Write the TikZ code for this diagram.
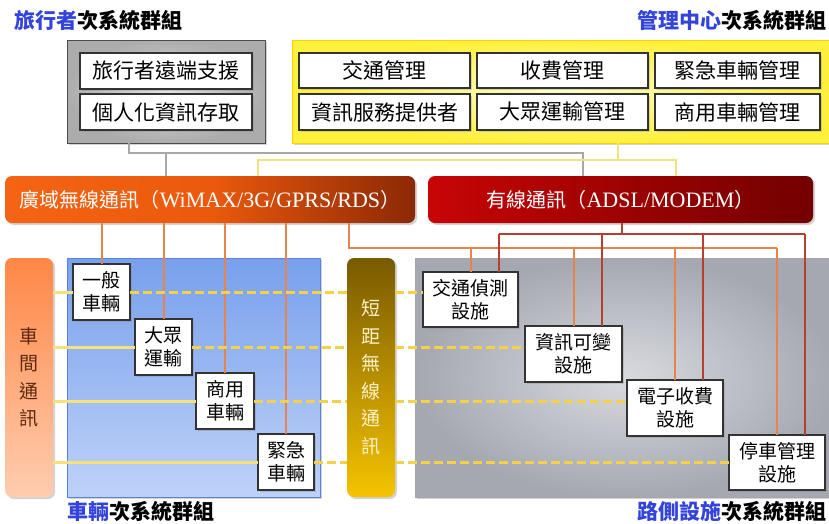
\documentclass[tikz,border=0pt]{standalone}
\usepackage{fontspec}
\setmainfont{Noto Sans CJK TC}
\newfontfamily\lserif{Liberation Serif}
\usetikzlibrary{shadows,calc}
\definecolor{tblue}{HTML}{3344DD}
\definecolor{oline}{HTML}{E8834E}
\definecolor{rline}{HTML}{B5402F}
\definecolor{gline}{HTML}{A8A8A8}
\definecolor{yline}{HTML}{F2E27A}
\definecolor{ydash}{HTML}{F3D24A}
\definecolor{ysol}{HTML}{F5E27A}
\tikzset{
  shd/.style={drop shadow={opacity=0.35,shadow xshift=2pt,shadow yshift=-2pt}},
  panel/.style={inner sep=0pt,outer sep=0pt,shd},
  wbox/.style={draw=black!80,line width=1.3pt,fill=white,inner sep=0pt,outer sep=0pt,align=center,
     drop shadow={opacity=0.3,shadow xshift=1.5pt,shadow yshift=-1.5pt}},
  bigtxt/.style={font=\fontsize{21}{25}\selectfont},
  smalltxt/.style={font=\fontsize{19}{23}\selectfont},
  vtxt/.style={font=\fontsize{19}{27.5}\selectfont,align=center},
  ttl/.style={font=\fontsize{21}{25}\selectfont\bfseries,inner sep=0pt},
  gconn/.style={draw=gline,line width=2pt},
  yconn/.style={draw=yline,line width=2pt},
  oconn/.style={draw=oline,line width=2pt},
  rconn/.style={draw=rline,line width=2pt},
  ysolid/.style={draw=ysol,line width=3pt},
  ydashed/.style={draw=ydash,line width=3pt,dash pattern=on 9pt off 4pt},
  ydshadow/.style={draw=gray,opacity=0.35,line width=2pt,dash pattern=on 9pt off 4pt,yshift=-1.5pt},
}
\begin{document}
\begin{tikzpicture}[x=1pt,y=-1pt]
\useasboundingbox (0,0) rectangle (829,523);
% titles
\node[ttl,anchor=west] (t1) at (14,20) {\textcolor{tblue}{旅行者}次系統群組};
\node[ttl,anchor=east] (t2) at (827,20) {\textcolor{tblue}{管理中心}次系統群組};
\node[ttl,anchor=west] (t3) at (67,511) {\textcolor{tblue}{車輛}次系統群組};
\node[ttl,anchor=east] (t4) at (827,511) {\textcolor{tblue}{路側設施}次系統群組};
% big panels
\node[panel,draw=black!70,line width=1pt,inner color=gray!22,outer color=gray!65,
      minimum width=198pt,minimum height=103pt] (trav) at (166,91.5) {};
\node[panel,draw=yellow!70!orange,line width=0.8pt,inner color={rgb,255:red,255;green,253;blue,205},outer color={rgb,255:red,255;green,240;blue,60},
      minimum width=540pt,minimum height=103pt] (mgmt) at (562,91.5) {};
\node[panel,rounded corners=7pt,left color={rgb,255:red,245;green,100;blue,20},right color={rgb,255:red,140;green,40;blue,5},
      middle color={rgb,255:red,235;green,90;blue,12},
      minimum width=410pt,minimum height=47pt,text=white,font=\fontsize{20}{24}\selectfont] (wide) at (210,199.5)
      {廣域無線通訊（{\lserif\fontsize{22}{24}\selectfont WiMAX/3G/GPRS/RDS}）};
\node[panel,rounded corners=7pt,left color={rgb,255:red,200;green,5;blue,5},right color={rgb,255:red,115;green,0;blue,0},
      minimum width=385pt,minimum height=47pt,text=white,font=\fontsize{20}{24}\selectfont] (wire) at (620.5,199.5)
      {有線通訊（{\lserif\fontsize{22}{24}\selectfont ADSL/MODEM}）};
\node[panel,rounded corners=7pt,top color={rgb,255:red,255;green,135;blue,70},bottom color={rgb,255:red,255;green,205;blue,175},
      minimum width=48pt,minimum height=239pt,text={rgb,255:red,95;green,40;blue,15},vtxt] (v2v) at (29,377.5)
      {車\\間\\通\\訊};
\node[panel,draw={rgb,255:red,90;green,130;blue,220},line width=0.8pt,top color={rgb,255:red,120;green,160;blue,236},bottom color={rgb,255:red,190;green,210;blue,248},
      minimum width=253pt,minimum height=239pt] (veh) at (193.5,377.5) {};
\node[panel,draw=gray!70,line width=0.8pt,inner color={rgb,255:red,216;green,218;blue,223},outer color={rgb,255:red,165;green,168;blue,177},
      minimum width=420pt,minimum height=239pt] (road) at (625,377.5) {};
\node[panel,rounded corners=7pt,top color={rgb,255:red,120;green,90;blue,0},bottom color={rgb,255:red,245;green,195;blue,0},
      minimum width=48pt,minimum height=239pt,text={rgb,255:red,255;green,243;blue,200},vtxt] (sr) at (371,377.5)
      {短\\距\\無\\線\\通\\訊};
% top connectors
\draw[gconn] (129,0 |- trav.south) -- (129,153) -| (583,0 |- wire.north);
\draw[gconn] (166,153) -- (166,0 |- wide.north);
\draw[yconn] (618,0 |- mgmt.south) -- (618,160);
\draw[yconn] (258,0 |- wide.north) |- (676,160) -- (676,0 |- wire.north);
% inner boxes of top panels
\node[wbox,bigtxt,minimum width=172pt,minimum height=36pt] (ta) at (166,71) {旅行者遠端支援};
\node[wbox,bigtxt,minimum width=172pt,minimum height=36pt] (tb) at (166,112) {個人化資訊存取};
\node[wbox,bigtxt,minimum width=171pt,minimum height=35pt] (m1) at (384.5,70.5) {交通管理};
\node[wbox,bigtxt,minimum width=171pt,minimum height=35pt] (m2) at (562.5,70.5) {收費管理};
\node[wbox,bigtxt,minimum width=165pt,minimum height=35pt] (m3) at (737.5,70.5) {緊急車輛管理};
\node[wbox,bigtxt,minimum width=171pt,minimum height=36pt] (m4) at (384.5,112) {資訊服務提供者};
\node[wbox,bigtxt,minimum width=171pt,minimum height=36pt] (m5) at (562.5,112) {大眾運輸管理};
\node[wbox,bigtxt,minimum width=165pt,minimum height=36pt] (m6) at (737.5,112) {商用車輛管理};
% vehicle and roadside boxes
\node[wbox,smalltxt,minimum width=57pt,minimum height=56pt] (v1) at (101.5,292) {一般\\車輛};
\node[wbox,smalltxt,minimum width=57pt,minimum height=56pt] (v2) at (163.5,347) {大眾\\運輸};
\node[wbox,smalltxt,minimum width=58pt,minimum height=56pt] (v3) at (225,401) {商用\\車輛};
\node[wbox,smalltxt,minimum width=56pt,minimum height=56pt] (v4) at (286,462) {緊急\\車輛};
\node[wbox,smalltxt,minimum width=95pt,minimum height=55pt] (r1) at (470.5,299.5) {交通偵測\\設施};
\node[wbox,smalltxt,minimum width=97pt,minimum height=56pt] (r2) at (573.5,354) {資訊可變\\設施};
\node[wbox,smalltxt,minimum width=96pt,minimum height=56pt] (r3) at (675,408) {電子收費\\設施};
\node[wbox,smalltxt,minimum width=96pt,minimum height=55pt] (r4) at (777,462.5) {停車管理\\設施};
% orange connectors
\foreach \v in {v1,v2,v3,v4} {\draw[oconn] (\v.north |- wide.south) -- (\v.north);}
\draw[oconn] (349,0 |- wide.south) |- (r4.north |- 0,248);
\foreach \r in {r1,r2,r3,r4} {\draw[oconn] (\r.north |- 0,248) -- (\r.north);}
% red connectors
\foreach \r [count=\i] in {r1,r2,r3,r4} {\coordinate (rr\i) at ($(\r.north)+(28,0)$);}
\draw[rconn] (622,0 |- wire.south) -- (622,234);
\draw[rconn] (rr1 |- 0,234) -- (rr4 |- 0,234);
\foreach \i in {1,2,3,4} {\draw[rconn] (rr\i |- 0,234) -- (rr\i);}
% yellow links
\foreach \v/\r in {v1/r1,v2/r2,v3/r3,v4/r4} {
  \draw[ysolid] (v2v.east |- \v.west) -- (\v.west);
  \draw[ydshadow] (\v.east) -- (sr.west |- \v.east);
  \draw[ydshadow] (sr.east |- \v.east) -- (\r.west |- \v.east);
  \draw[ydashed] (\v.east) -- (sr.west |- \v.east);
  \draw[ydashed] (sr.east |- \v.east) -- (\r.west |- \v.east);
}
\end{tikzpicture}
\end{document}
